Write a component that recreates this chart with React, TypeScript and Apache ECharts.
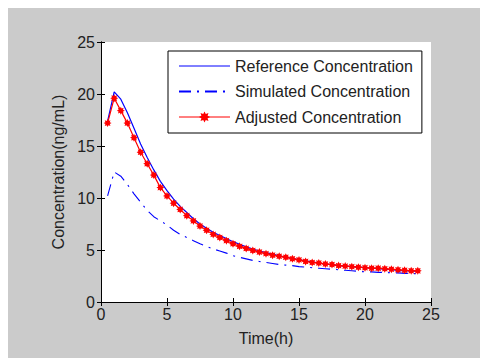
import React, { useEffect, useRef } from "react";
import * as echarts from "echarts";

const times = [
  0.5, 1, 1.5, 2, 2.5, 3, 3.5, 4, 4.5, 5, 5.5, 6, 6.5, 7, 7.5, 8, 8.5, 9, 9.5, 10,
  10.5, 11, 11.5, 12, 12.5, 13, 13.5, 14, 14.5, 15, 15.5, 16, 16.5, 17, 17.5, 18,
  18.5, 19, 19.5, 20, 20.5, 21, 21.5, 22, 22.5, 23, 23.5, 24,
];

const referenceConc = [
  17.4, 20.2, 19.5, 18.2, 16.7, 15.2, 13.9, 12.7, 11.6, 10.7, 9.9, 9.2, 8.6, 8.0, 7.5, 7.1,
  6.7, 6.4, 6.1, 5.8, 5.55, 5.3, 5.1, 4.9, 4.75, 4.6, 4.45, 4.3, 4.2, 4.05, 3.95, 3.85,
  3.75, 3.65, 3.6, 3.5, 3.45, 3.4, 3.35, 3.3, 3.25, 3.2, 3.15, 3.1, 3.05, 3.0, 3.0, 2.95,
];

const simulatedConc = [
  10.2, 12.5, 12.1, 11.3, 10.4, 9.6, 8.8, 8.2, 7.8, 7.4, 6.9, 6.5, 6.2, 5.9, 5.6, 5.35,
  5.1, 4.9, 4.7, 4.45, 4.3, 4.15, 4.0, 3.9, 3.8, 3.7, 3.6, 3.55, 3.5, 3.4, 3.35, 3.3,
  3.25, 3.2, 3.15, 3.1, 3.05, 3.0, 2.95, 2.9, 2.9, 2.85, 2.85, 2.8, 2.8, 2.75, 2.75, 2.7,
];

const adjustedConc = [
  17.2, 19.6, 18.4, 17.2, 15.8, 14.4, 13.3, 12.2, 11.0, 10.2, 9.5, 8.9, 8.3, 7.8, 7.3, 6.9,
  6.5, 6.2, 5.9, 5.6, 5.35, 5.15, 4.95, 4.8, 4.65, 4.5, 4.4, 4.3, 4.15, 4.05, 3.9, 3.8,
  3.75, 3.65, 3.6, 3.5, 3.45, 3.4, 3.35, 3.3, 3.25, 3.25, 3.2, 3.15, 3.1, 3.05, 3.0, 3.0,
];

const seriesNames = ["Reference Concentration", "Simulated Concentration", "Adjusted Concentration"];

const FONT = "'Liberation Sans', Arial, Helvetica, sans-serif";
const TXT = "#222";
const BLUE = "#0000ff";
const RED = "#ff0000";
const STAR =
  "path://M10 0L12.3 4.46L17.07 2.93L15.54 7.7L20 10L15.54 12.3L17.07 17.07L12.3 15.54L10 20L7.7 15.54L2.93 17.07L4.46 12.3L0 10L4.46 7.7L2.93 2.93L7.7 4.46Z";

const pair = (ys: number[]) => times.map((t, i) => [t, ys[i]]);

export default function App() {
  const ref = useRef<HTMLDivElement>(null);
  useEffect(() => {
    if (!ref.current) return;
    const chart = echarts.init(ref.current, null, { renderer: "svg" });
    const axisLine = { show: true, lineStyle: { color: "#000", width: 1 } };
    const tick = { show: true, inside: true, length: 4, lineStyle: { color: "#000" } };
    chart.setOption({
      animation: false,
      backgroundColor: "#cbcbcb",
      textStyle: { fontFamily: FONT },
      grid: {
        left: 93,
        top: 34,
        width: 330,
        height: 260,
        show: true,
        backgroundColor: "#ffffff",
        borderWidth: 0,
      },
      legend: {
        orient: "vertical",
        left: 160,
        top: 43,
        data: [
          {
            name: seriesNames[0],
            itemStyle: { opacity: 0 },
            lineStyle: { color: BLUE, width: 1, type: "solid" },
          },
          {
            name: seriesNames[1],
            itemStyle: { opacity: 0 },
          },
          {
            name: seriesNames[2],
            lineStyle: { color: RED, width: 1, type: "solid" },
          },
        ],
        itemWidth: 51,
        itemHeight: 14,
        itemGap: 9.5,
        padding: [7, 9, 8, 10],
        backgroundColor: "#ffffff",
        borderColor: "#000",
        borderWidth: 1,
        borderRadius: 0,
        textStyle: { fontSize: 16, color: TXT, fontFamily: FONT },
      },
      xAxis: [
        {
          type: "value",
          min: 0,
          max: 25,
          interval: 5,
          position: "bottom",
          name: "Time(h)",
          nameLocation: "middle",
          nameGap: 28,
          nameTextStyle: { fontSize: 16, color: TXT, fontFamily: FONT },
          axisLine,
          axisTick: tick,
          axisLabel: { fontSize: 16, color: TXT, margin: 4, fontFamily: FONT },
          splitLine: { show: false },
        },
        {
          type: "value",
          min: 0,
          max: 25,
          interval: 5,
          position: "top",
          axisLine,
          axisTick: tick,
          axisLabel: { show: false },
          splitLine: { show: false },
        },
      ],
      yAxis: [
        {
          type: "value",
          min: 0,
          max: 25,
          interval: 5,
          position: "left",
          name: "Concentration(ng/mL)",
          nameLocation: "middle",
          nameGap: 35,
          nameTextStyle: { fontSize: 16, color: TXT, fontFamily: FONT },
          axisLine,
          axisTick: tick,
          axisLabel: { fontSize: 16, color: TXT, margin: 6, fontFamily: FONT },
          splitLine: { show: false },
        },
        {
          type: "value",
          min: 0,
          max: 25,
          interval: 5,
          position: "right",
          axisLine,
          axisTick: tick,
          axisLabel: { show: false },
          splitLine: { show: false },
        },
      ],
      series: [
        {
          name: seriesNames[0],
          type: "line",
          data: pair(referenceConc),
          symbol: "none",
          lineStyle: { color: BLUE, width: 1.2 },
          itemStyle: { color: BLUE },
          z: 2,
        },
        {
          name: seriesNames[1],
          type: "line",
          data: pair(simulatedConc),
          symbol: "none",
          lineStyle: { color: BLUE, width: 1.1, type: [12, 6, 2, 6] },
          itemStyle: { color: BLUE },
          z: 2,
        },
        {
          name: seriesNames[2],
          type: "line",
          data: pair(adjustedConc),
          symbol: STAR,
          symbolSize: 8,
          showSymbol: true,
          lineStyle: { color: RED, width: 1.2 },
          itemStyle: { color: RED },
          z: 3,
        },
      ],
    });
    return () => chart.dispose();
  }, []);
  return (
    <div
      ref={ref}
      style={{ position: "fixed", left: 8, top: 8, width: 472, height: 350 }}
    />
  );
}
